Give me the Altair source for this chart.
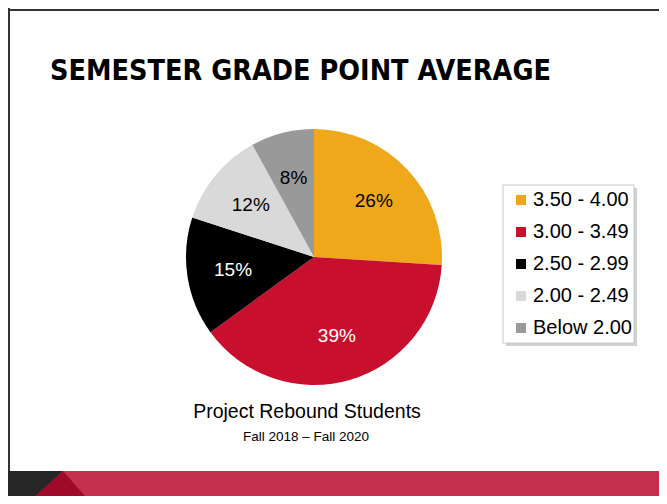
import altair as alt
import pandas as pd

# ---- data ----
grades = ["3.50 - 4.00", "3.00 - 3.49", "2.50 - 2.99", "2.00 - 2.49", "Below 2.00"]
shares = [26, 39, 15, 12, 8]
labels = ["26%", "39%", "15%", "12%", "8%"]
colors = ["#F0A81B", "#C8102E", "#000000", "#D9D9D9", "#999999"]

title_text = "SEMESTER GRADE POINT AVERAGE"
subtitle_text = "Project Rebound Students"
period_text = "Fall 2018 \u2013 Fall 2020"

df = pd.DataFrame({"grade": grades, "share": shares, "label": labels,
                   "rank": list(range(len(grades)))})

W, H = 651, 488
CX, CY, R = 306, 249, 128
FONT = "Liberation Sans"

base = alt.Chart(df).encode(
    theta=alt.Theta("share:Q", stack=True),
    order=alt.Order("rank:Q"),
)

pie = base.mark_arc(outerRadius=R, stroke=None).encode(
    color=alt.Color(
        "grade:N",
        scale=alt.Scale(domain=grades, range=colors),
        legend=alt.Legend(
            title=None, orient="none", legendX=503, legendY=182,
            symbolType="square", symbolSize=100, symbolStrokeWidth=0,
            labelFontSize=20, labelFont=FONT, labelColor="black",
            rowPadding=12, labelOffset=2, padding=0,
        ),
    ),
    x=alt.value(CX), y=alt.value(CY),
)

pie_labels = base.mark_text(radius=82, font=FONT, fontSize=19).encode(
    text="label:N",
    color=alt.condition("datum.rank == 1 || datum.rank == 2",
                        alt.value("white"), alt.value("black")),
    x=alt.value(CX), y=alt.value(CY),
)

one = alt.Chart(pd.DataFrame({"k": [0]}))

# slide frame
top_line = one.mark_rule(color="#333333", strokeWidth=2).encode(
    x=alt.value(0), x2=alt.value(W), y=alt.value(2))
left_line = one.mark_rule(color="#333333", strokeWidth=2).encode(
    x=alt.value(1), y=alt.value(0), y2=alt.value(463))

# legend box with shadow
shadow = one.mark_rect(color="#bdbdbd", opacity=0.7).encode(
    x=alt.value(498), x2=alt.value(629), y=alt.value(180), y2=alt.value(338))
box = one.mark_rect(fill="white", stroke="#c8c8c8", strokeWidth=1).encode(
    x=alt.value(495), x2=alt.value(626), y=alt.value(177), y2=alt.value(335))

title = one.mark_text(text=title_text, align="left", baseline="alphabetic",
                      font="DejaVu Sans Condensed", fontSize=28.5,
                      fontWeight="bold", color="black").encode(
    x=alt.value(42), y=alt.value(72))
subtitle = one.mark_text(text=subtitle_text, align="center", baseline="alphabetic",
                         font=FONT, fontSize=19.5, color="black").encode(
    x=alt.value(299), y=alt.value(410))
period = one.mark_text(text=period_text, align="center", baseline="alphabetic",
                       font=FONT, fontSize=13.5, color="black").encode(
    x=alt.value(298), y=alt.value(433))

# bottom banner
bar = one.mark_rect(color="#C5314D").encode(
    x=alt.value(0), x2=alt.value(W), y=alt.value(463), y2=alt.value(H))
dark_tri = one.mark_point(shape="M0,0 L55,0 L27.7,25 L0,25 Z", size=4,
                          filled=True, opacity=1, color="#262626",
                          strokeWidth=0).encode(x=alt.value(0), y=alt.value(463))
red_tri = one.mark_point(shape="M55,0 L27.7,25 L77,25 Z", size=4,
                         filled=True, opacity=1, color="#A00A2A",
                         strokeWidth=0).encode(x=alt.value(0), y=alt.value(463))

chart = alt.layer(
    top_line, left_line, shadow, box, pie, pie_labels,
    title, subtitle, period, bar, dark_tri, red_tri,
).properties(
    width=W, height=H, padding=0, background="white",
    autosize=alt.AutoSizeParams(type="none"),
).configure_view(stroke=None)

chart.save("out.html", embed_options={"renderer": "svg", "actions": False})
